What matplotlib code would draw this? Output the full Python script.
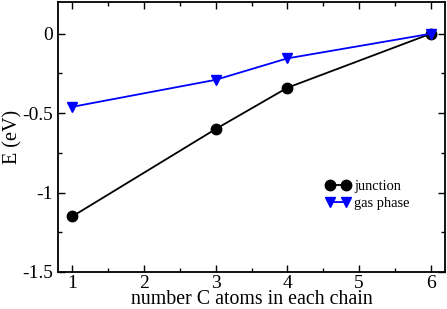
import matplotlib
matplotlib.use("Agg")
import matplotlib.pyplot as plt
from matplotlib.ticker import MultipleLocator

plt.rcParams['font.family'] = ['Liberation Serif', 'DejaVu Serif']

# data
n_carbon = [1, 3, 4, 6]
e_junction = [-1.15, -0.60, -0.34, 0.0]
e_gas = [-0.46, -0.29, -0.155, 0.0]

fig = plt.figure(figsize=(4.47, 3.09), dpi=100)
ax = fig.add_axes([58 / 447, 1 - 272 / 309, 387 / 447, 270 / 309])

ax.plot(n_carbon, e_junction, color='black', marker='o', markersize=7.5,
        linewidth=1.3, label='junction')
ax.plot(n_carbon, e_gas, color='blue', marker='v', markersize=7.5,
        linewidth=1.3, label='gas phase')

ax.set_xlim(0.8, 6.2)
ax.set_ylim(-1.5, 0.2)
ax.xaxis.set_major_locator(MultipleLocator(1))
ax.xaxis.set_minor_locator(MultipleLocator(0.5))
ax.yaxis.set_minor_locator(MultipleLocator(0.25))
ax.set_yticks([-1.5, -1, -0.5, 0])
ax.set_yticklabels(['-1.5', '-1', '-0.5', '0'])

ax.tick_params(which='both', direction='in', top=True, right=True,
               labelsize=14, width=1)
ax.tick_params(which='major', length=5)
ax.tick_params(which='minor', length=3)
ax.tick_params(axis='x', pad=2)
for s in ax.spines.values():
    s.set_linewidth(1.3)

ax.set_xlabel('number C atoms in each chain', fontsize=14.3, va='baseline')
ax.xaxis.set_label_coords(0.5, -32.5 / 270)
ax.set_ylabel('E (eV)', fontsize=14.5, labelpad=0)

ax.legend(loc='upper left', bbox_to_anchor=(0.692, 0.341), numpoints=2,
          frameon=False, fontsize=10.4, handlelength=1.7, handletextpad=0.25,
          labelspacing=0.25, borderpad=0, borderaxespad=0)

fig.savefig('out.png', dpi=100)
